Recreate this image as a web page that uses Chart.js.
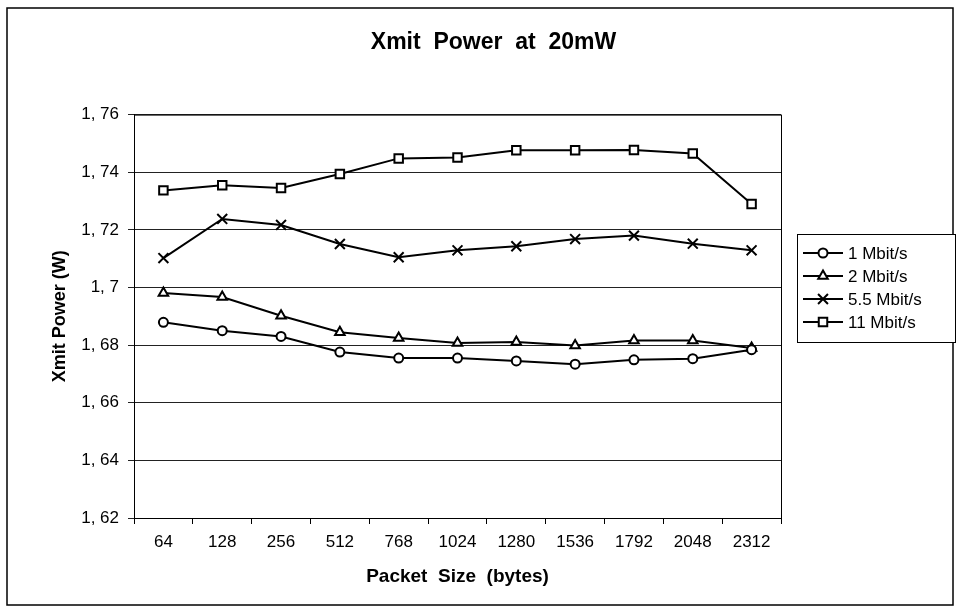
<!DOCTYPE html>
<html>
<head>
<meta charset="utf-8">
<script src="https://cdn.jsdelivr.net/npm/chart.js@4.4.0/dist/chart.umd.min.js"></script>
<style>
  html, body { margin: 0; padding: 0; background: #fff; }
  #wrap { width: 957px; height: 611px; }
</style>
</head>
<body>
<div id="wrap"><canvas id="myChart"></canvas></div>
<script>
// packet sizes (bytes)
const sizes = ["64", "128", "256", "512", "768", "1024", "1280", "1536", "1792", "2048", "2312"];

// transmit power (W) per data rate
const mbit1 = [1.6879, 1.685, 1.683, 1.6776, 1.6755, 1.6755, 1.6745, 1.6734, 1.6749, 1.6753, 1.6784];
const mbit2 = [1.6981, 1.6967, 1.6902, 1.6845, 1.6825, 1.6807, 1.6811, 1.6799, 1.6816, 1.6816, 1.679];
const mbit55 = [1.7102, 1.7238, 1.7217, 1.7151, 1.7105, 1.7129, 1.7143, 1.7168, 1.718, 1.7152, 1.7129];
const mbit11 = [1.7337, 1.7355, 1.7345, 1.7394, 1.7448, 1.7451, 1.7476, 1.7476, 1.7477, 1.7465, 1.729];

const seriesNames = ["1 Mbit/s", "2 Mbit/s", "5.5 Mbit/s", "11 Mbit/s"];
const yMin = 1.62, yMax = 1.76, yStep = 0.02;

const FONT = "'Liberation Sans', Arial, sans-serif";

function makeSet(label, data, style, radius) {
  return {
    label: label,
    data: data,
    borderColor: "#000",
    backgroundColor: "#fff",
    borderWidth: 2,
    pointStyle: style,
    pointRadius: radius,
    pointBorderWidth: 2,
    pointBorderColor: "#000",
    pointBackgroundColor: "#fff",
    fill: false,
    tension: 0,
  };
}

// frame around the whole picture + box around the plot
const framePlugin = {
  id: "frame",
  afterDraw(chart) {
    const ctx = chart.ctx;
    const a = chart.chartArea;
    ctx.save();
    ctx.strokeStyle = "#000";
    ctx.lineWidth = 1;
    ctx.strokeRect(a.left + 0.5, a.top + 0.5, a.right - a.left, a.bottom - a.top);
    ctx.lineWidth = 1.5;
    ctx.strokeRect(7, 8, 946, 597);
    ctx.restore();
  },
};

// boxed legend with line + marker samples
const legendBox = {
  id: "legendBox",
  afterDraw(chart) {
    const ctx = chart.ctx;
    const sets = chart.data.datasets;
    const x0 = 797, y0 = 234, w = 158, h = 108;
    ctx.save();
    ctx.fillStyle = "#fff";
    ctx.fillRect(x0, y0, w, h);
    ctx.strokeStyle = "#000";
    ctx.lineWidth = 1;
    ctx.strokeRect(x0 + 0.5, y0 + 0.5, w, h);
    ctx.font = "17px " + FONT;
    ctx.textBaseline = "middle";
    ctx.textAlign = "left";
    sets.forEach((ds, i) => {
      const cy = y0 + 19 + i * 23;
      ctx.strokeStyle = "#000";
      ctx.lineWidth = 2;
      ctx.beginPath();
      ctx.moveTo(803, cy);
      ctx.lineTo(843, cy);
      ctx.stroke();
      ctx.fillStyle = "#fff";
      Chart.helpers.drawPoint(ctx, {
        pointStyle: ds.pointStyle,
        radius: ds.pointRadius,
        rotation: 0,
        borderWidth: 2,
      }, 823, cy);
      ctx.fillStyle = "#000";
      ctx.fillText(ds.label, 848, cy + 1);
    });
    ctx.restore();
  },
};

const ctx = document.getElementById("myChart");
const myChart = new Chart(ctx, {
  type: "line",
  data: {
    labels: sizes,
    datasets: [
      makeSet(seriesNames[0], mbit1, "circle", 4.5),
      makeSet(seriesNames[1], mbit2, "triangle", 5.5),
      makeSet(seriesNames[2], mbit55, "crossRot", 7),
      makeSet(seriesNames[3], mbit11, "rect", 6),
    ],
  },
  options: {
    responsive: true,
    maintainAspectRatio: false,
    animation: false,
    layout: { padding: { left: 30, right: 0, top: 10, bottom: 10 } },
    plugins: {
      legend: { display: false },
      tooltip: { enabled: false },
      title: {
        display: true,
        text: "Xmit  Power  at  20mW",
        color: "#000",
        font: { family: FONT, size: 23, weight: "bold" },
        padding: { top: 19, bottom: 58 },
      },
    },
    scales: {
      x: {
        offset: true,
        grid: {
          offset: true,
          drawOnChartArea: false,
          drawTicks: true,
          tickLength: 6,
          color: "#000",
        },
        border: { color: "#000", width: 1 },
        ticks: {
          color: "#000",
          font: { family: FONT, size: 17 },
          padding: 8,
          maxRotation: 0,
        },
        title: {
          display: true,
          text: "Packet  Size  (bytes)",
          color: "#000",
          font: { family: FONT, size: 19, weight: "bold" },
          padding: { top: 4, bottom: 13 },
        },
        afterFit(scale) { scale.height = 83; },
      },
      y: {
        min: yMin,
        max: yMax,
        grid: { color: "#222", lineWidth: 1, tickLength: 6 },
        border: { color: "#000", width: 1 },
        ticks: {
          stepSize: yStep,
          color: "#000",
          font: { family: FONT, size: 17 },
          padding: 9,
          callback: (v) => parseFloat(v.toFixed(2)).toString().replace(".", ", "),
        },
        title: {
          display: true,
          text: "Xmit Power (W)",
          color: "#000",
          font: { family: FONT, size: 18, weight: "bold" },
          padding: { top: 19, bottom: 4 },
        },
        afterFit(scale) { scale.width = 104; },
      },
      yRight: {
        position: "right",
        min: yMin,
        max: yMax,
        grid: { display: false },
        border: { display: false },
        ticks: { display: false },
        afterFit(scale) { scale.width = 176; },
      },
    },
  },
  plugins: [framePlugin, legendBox],
});
</script>
</body>
</html>
